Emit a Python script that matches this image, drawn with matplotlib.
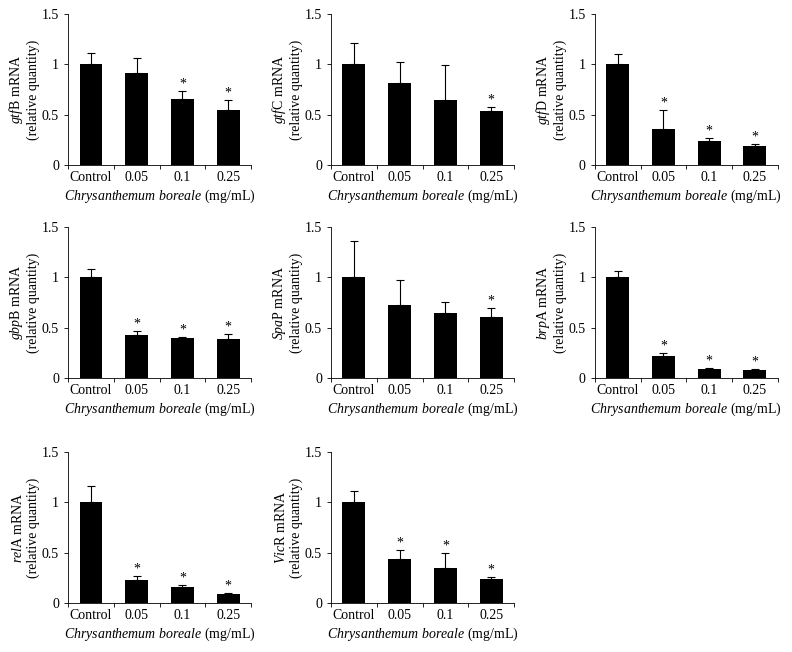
import matplotlib
matplotlib.use("Agg")
import matplotlib.pyplot as plt
from matplotlib.ticker import FixedLocator

plt.rcParams['font.family'] = 'Liberation Serif'
plt.rcParams['mathtext.fontset'] = 'custom'
plt.rcParams['mathtext.rm'] = 'Liberation Serif'
plt.rcParams['mathtext.it'] = 'Liberation Serif:italic'
plt.rcParams['mathtext.bf'] = 'Liberation Serif:bold'

# 浓度分组
groups = ["Control", "0.05", "0.1", "0.25"]

# 每个基因: 均值, 误差上端, 显著性
gtfB_mean = [1.0, 0.91, 0.66, 0.55]
gtfB_top = [1.11, 1.06, 0.73, 0.645]
gtfB_sig = [False, False, True, True]

gtfC_mean = [1.0, 0.81, 0.645, 0.54]
gtfC_top = [1.21, 1.02, 0.99, 0.58]
gtfC_sig = [False, False, False, True]

gtfD_mean = [1.0, 0.355, 0.24, 0.185]
gtfD_top = [1.10, 0.545, 0.27, 0.21]
gtfD_sig = [False, True, True, True]

gbpB_mean = [1.0, 0.43, 0.395, 0.39]
gbpB_top = [1.08, 0.465, 0.405, 0.44]
gbpB_sig = [False, True, True, True]

spaP_mean = [1.0, 0.725, 0.645, 0.605]
spaP_top = [1.36, 0.975, 0.755, 0.70]
spaP_sig = [False, False, False, True]

brpA_mean = [1.0, 0.22, 0.095, 0.08]
brpA_top = [1.065, 0.245, 0.105, 0.09]
brpA_sig = [False, True, True, True]

relA_mean = [1.0, 0.225, 0.16, 0.09]
relA_top = [1.16, 0.265, 0.18, 0.10]
relA_sig = [False, True, True, True]

vicR_mean = [1.0, 0.435, 0.345, 0.235]
vicR_top = [1.11, 0.53, 0.50, 0.255]
vicR_sig = [False, True, True, True]

panels = [
    (r"$\it{gtf}$B mRNA", gtfB_mean, gtfB_top, gtfB_sig),
    (r"$\it{gtf}$C mRNA", gtfC_mean, gtfC_top, gtfC_sig),
    (r"$\it{gtf}$D mRNA", gtfD_mean, gtfD_top, gtfD_sig),
    (r"$\it{gbp}$B mRNA", gbpB_mean, gbpB_top, gbpB_sig),
    (r"$\it{Spa}$P mRNA", spaP_mean, spaP_top, spaP_sig),
    (r"$\it{brp}$A mRNA", brpA_mean, brpA_top, brpA_sig),
    (r"$\it{rel}$A mRNA", relA_mean, relA_top, relA_sig),
    (r"$\it{Vic}$R mRNA", vicR_mean, vicR_top, vicR_sig),
]

fig = plt.figure(figsize=(7.92, 6.52), dpi=100)

lefts = [0.086, 0.418, 0.751]
bottoms = [0.747, 0.420, 0.075]
w, h = 0.231, 0.2316

for i, (name, mean, top, sig) in enumerate(panels):
    ax = fig.add_axes([lefts[i % 3], bottoms[i // 3], w, h])
    x = list(range(len(groups)))
    err = [t - m for t, m in zip(top, mean)]
    ax.bar(x, mean, width=0.5, color='black', zorder=2)
    ax.errorbar(x, mean, yerr=[[0] * 4, err], fmt='none', ecolor='black',
                elinewidth=0.8, capsize=3, capthick=0.8, zorder=1)
    for xi, t, s in zip(x, top, sig):
        if s:
            ax.text(xi, t + 0.005, "*", ha='center', va='bottom', fontsize=10)
    ax.set_xlim(-0.5, 3.5)
    ax.set_ylim(0, 1.5)
    ax.set_yticks([0, 0.5, 1, 1.5])
    ax.set_yticklabels(["0", "0.5", "1", "1.5"])
    ax.set_xticks(x)
    ax.set_xticklabels(groups)
    ax.xaxis.set_minor_locator(FixedLocator([-0.5, 0.5, 1.5, 2.5, 3.5]))
    ax.tick_params(axis='x', which='major', length=0, pad=4, labelsize=10)
    ax.tick_params(axis='x', which='minor', length=3, width=0.6, direction='out')
    ax.tick_params(axis='y', length=3, width=0.6, direction='out', labelsize=10)
    for sp in ['top', 'right']:
        ax.spines[sp].set_visible(False)
    for sp in ['left', 'bottom']:
        ax.spines[sp].set_linewidth(0.6)
    ax.set_ylabel(name + "\n(relative quantity)", fontsize=10, linespacing=1.15, labelpad=1)
    ax.set_xlabel(r"$\it{Chrysanthemum\ boreale}$ (mg/mL)", fontsize=10, labelpad=3)

fig.savefig("out.png", dpi=100)
